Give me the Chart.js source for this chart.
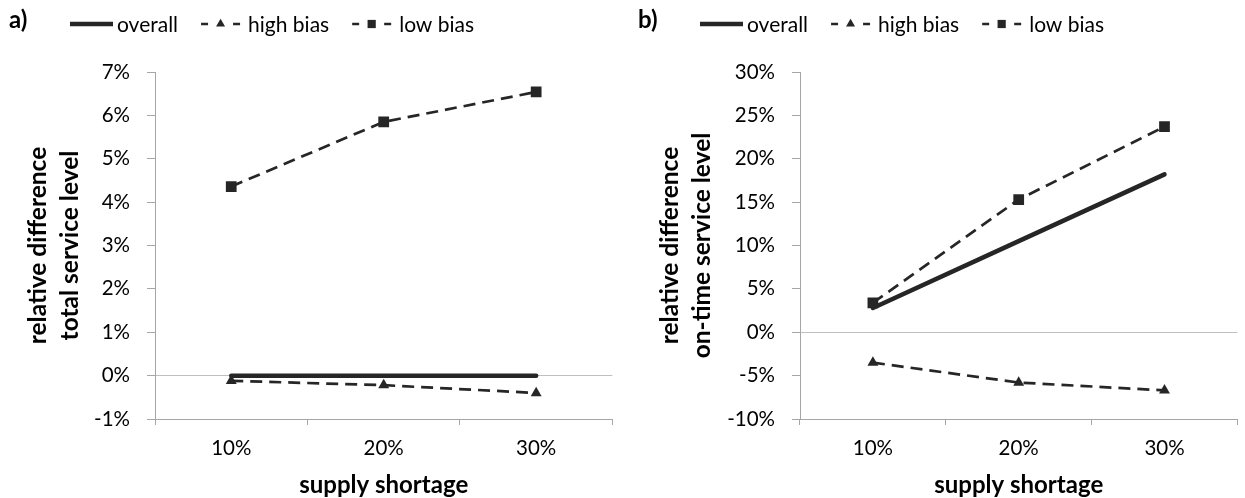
<!DOCTYPE html>
<html>
<head>
<meta charset="utf-8">
<script src="https://cdn.jsdelivr.net/npm/chart.js@4/dist/chart.umd.min.js"></script>
<style>
  html, body { margin: 0; padding: 0; background: #fff; }
  #wrap { position: relative; width: 1245px; height: 498px; overflow: hidden; }
  .panel { position: absolute; top: 0; height: 498px; }
  .tag { position: absolute; top: 4px; font: bold 24px Lato, sans-serif; color: #000; }
</style>
</head>
<body>
<div id="wrap">
  <div class="panel" style="left:0;width:620px"><canvas id="chartA" width="620" height="498" style="width:620px;height:498px"></canvas></div>
  <div class="panel" style="left:620px;width:625px"><canvas id="chartB" width="625" height="498" style="width:625px;height:498px"></canvas></div>
  <div class="tag" style="left:9px">a)</div>
  <div class="tag" style="left:638px">b)</div>
</div>
<script>
// Supply shortage levels on the x axis
const categories = ['10%', '20%', '30%'];

// Panel a: relative difference in total service level (%)
const totalOverall = [0, 0, 0];
const totalHighBias = [-0.12, -0.22, -0.4];
const totalLowBias = [4.36, 5.85, 6.54];

// Panel b: relative difference in on-time service level (%)
const onTimeOverall = [2.8, 10.5, 18.2];
const onTimeHighBias = [-3.5, -5.8, -6.7];
const onTimeLowBias = [3.4, 15.3, 23.7];

const seriesNames = ['overall', 'high bias', 'low bias'];

const INK = '#262626';
const AXIS = '#a6a6a6';
const FONT = 'Lato, sans-serif';

Chart.defaults.font.family = FONT;
Chart.defaults.color = '#000';

// Legend drawn as line samples with a marker in the middle of the dashed ones
const lineLegend = {
  id: 'lineLegend',
  afterDraw(chart, args, opts) {
    const ctx = chart.ctx;
    const y = opts.y;
    let x = opts.x;
    ctx.save();
    ctx.font = '21px ' + FONT;
    ctx.textBaseline = 'middle';
    ctx.textAlign = 'left';
    chart.data.datasets.forEach(ds => {
      ctx.strokeStyle = ds.borderColor;
      ctx.lineCap = 'butt';
      ctx.setLineDash([]);
      if (!ds.borderDash || ds.borderDash.length === 0) {
        ctx.lineWidth = ds.borderWidth;
        ctx.beginPath();
        ctx.moveTo(x, y);
        ctx.lineTo(x + 43, y);
        ctx.stroke();
        x += 47;
      } else {
        ctx.lineWidth = ds.borderWidth;
        ctx.beginPath();
        ctx.moveTo(x, y); ctx.lineTo(x + 7, y);
        ctx.moveTo(x + 32, y); ctx.lineTo(x + 39, y);
        ctx.stroke();
        ctx.fillStyle = ds.pointBackgroundColor;
        Chart.helpers.drawPoint(ctx, {
          pointStyle: ds.pointStyle,
          radius: ds.pointStyle === 'rect' ? 5.8 : 5.2,
          borderWidth: 0,
          rotation: 0
        }, x + 19.5, y);
        x += 47;
      }
      ctx.fillStyle = '#000';
      ctx.fillText(ds.label, x, y + 1);
      x += ctx.measureText(ds.label).width + 23;
    });
    ctx.restore();
  }
};

function makeDatasets(overall, high, low) {
  return [
    {
      label: seriesNames[0], data: overall,
      borderColor: INK, backgroundColor: INK, borderWidth: 4.5,
      pointRadius: 0, borderCapStyle: 'round', tension: 0
    },
    {
      label: seriesNames[1], data: high,
      borderColor: INK, backgroundColor: INK, borderWidth: 2.7, borderDash: [12, 7],
      pointStyle: 'triangle', pointRadius: 6.3, pointBackgroundColor: INK,
      pointBorderColor: INK, pointBorderWidth: 0, tension: 0
    },
    {
      label: seriesNames[2], data: low,
      borderColor: INK, backgroundColor: INK, borderWidth: 2.7, borderDash: [12, 7],
      pointStyle: 'rect', pointRadius: 7.6, pointBackgroundColor: INK,
      pointBorderColor: INK, pointBorderWidth: 0, tension: 0
    }
  ];
}

function makeOptions(cfg) {
  return {
    responsive: false,
    animation: false,
    events: [],
    layout: { padding: { top: 72, left: 0, right: cfg.padRight, bottom: 0 } },
    plugins: {
      legend: { display: false },
      tooltip: { enabled: false },
      lineLegend: { x: cfg.legendX, y: 24 }
    },
    scales: {
      x: {
        offset: true,
        grid: { offset: true, drawOnChartArea: false, tickLength: 6, tickColor: AXIS, lineWidth: 1 },
        border: { color: AXIS, width: 1 },
        ticks: { font: { size: 20.5 }, color: '#000', padding: 11 },
        title: {
          display: true, text: 'supply shortage', color: '#000',
          font: { size: 24, weight: 'bold', lineHeight: 1.1 },
          padding: { top: 0, bottom: 0 }
        },
        afterFit(scale) { scale.height = 79; }
      },
      y: {
        min: cfg.min, max: cfg.max,
        ticks: {
          stepSize: cfg.step, padding: 17, font: { size: 20.5 }, color: '#000',
          callback: v => v + '%'
        },
        grid: {
          color: c => (c.tick && c.tick.value === 0) ? '#bfbfbf' : 'rgba(0,0,0,0)',
          tickColor: AXIS, tickLength: 8, lineWidth: 1
        },
        border: { color: AXIS, width: 1 },
        title: {
          display: true, text: cfg.yTitle, color: '#000',
          font: { size: 24.5, weight: 'bold', lineHeight: 1.3 },
          padding: { top: cfg.titlePad, bottom: 0 }
        },
        afterFit(scale) { scale.width = cfg.yWidth; }
      }
    }
  };
}

new Chart(document.getElementById('chartA'), {
  type: 'line',
  data: { labels: categories, datasets: makeDatasets(totalOverall, totalHighBias, totalLowBias) },
  options: makeOptions({
    min: -1, max: 7, step: 1, padRight: 7, yWidth: 155, legendX: 70, titlePad: 22,
    yTitle: ['relative difference', 'total service level']
  }),
  plugins: [lineLegend]
});

new Chart(document.getElementById('chartB'), {
  type: 'line',
  data: { labels: categories, datasets: makeDatasets(onTimeOverall, onTimeHighBias, onTimeLowBias) },
  options: makeOptions({
    min: -10, max: 30, step: 5, padRight: 1, yWidth: 180, legendX: 80, titlePad: 34,
    yTitle: ['relative difference', 'on-time service level']
  }),
  plugins: [lineLegend]
});
</script>
</body>
</html>
